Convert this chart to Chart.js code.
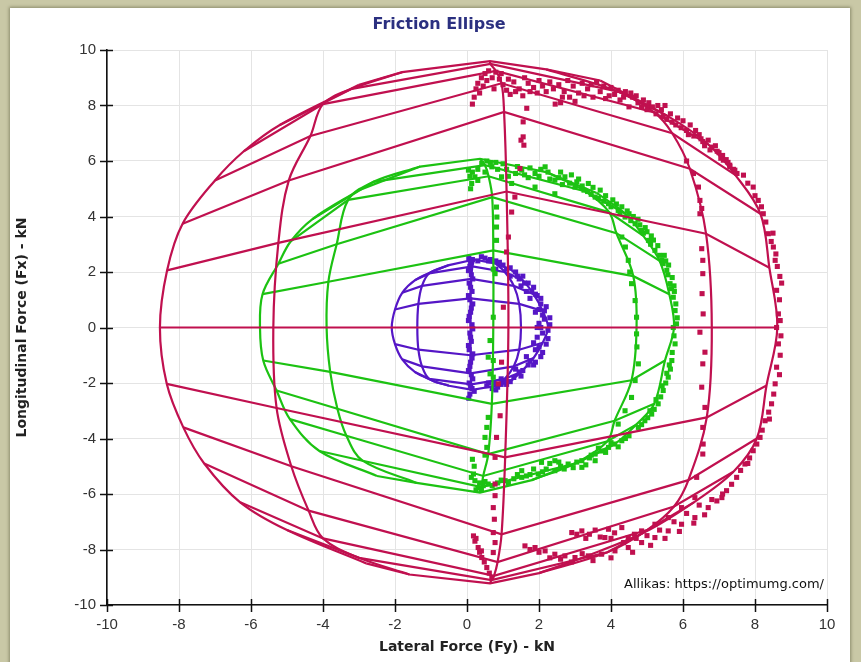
<!DOCTYPE html>
<html>
<head>
<meta charset="utf-8">
<title>Friction Ellipse</title>
<script src="https://cdn.jsdelivr.net/npm/chart.js@4.4.1/dist/chart.umd.min.js"></script>
<style>
	body { margin: 0; width: 861px; height: 662px; position: relative; overflow: hidden; background: #c9c8a6; }
	#panel { position: absolute; left: 10px; top: 8px; width: 840px; height: 660px; background: #fff; box-shadow: 0 0 3px 1px rgba(90, 90, 60, 0.55); }
	#chart { position: absolute; left: 0; top: 0; }
</style>
</head>
<body>
<div id="panel"></div>
<canvas id="chart" width="861" height="662"></canvas>
<script>
'use strict';

// axis ticks, kN
var tickValues = [-10, -8, -6, -4, -2, 0, 2, 4, 6, 8, 10];

// tyre model grids: each row is one slip ratio, nodes run [max -slip angle, mid -, 0, mid +, max +]
var redGrid = [
	[[-3.0, 8.75], [-1.8, 9.2], [0.64, 9.6], [2.2, 9.3], [3.7, 8.9]],
	[[-5.2, 7.3], [-3.2, 8.6], [0.65, 9.5], [4.2, 8.5], [5.6, 7.6]],
	[[-6.2, 6.35], [-4.0, 8.05], [0.8, 9.25], [5.2, 7.75], [6.7, 6.6]],
	[[-7.0, 5.3], [-4.35, 6.9], [0.96, 8.8], [5.7, 7.0], [7.45, 5.5]],
	[[-7.9, 3.74], [-4.95, 5.3], [1.03, 7.77], [6.19, 5.72], [8.15, 4.1]],
	[[-8.33, 2.06], [-5.24, 3.05], [1.1, 4.9], [6.64, 3.38], [8.4, 2.15]],
	[[-8.53, 0], [-5.38, 0], [1.15, 0], [6.8, 0], [8.62, 0]],
	[[-8.34, -2.03], [-5.29, -2.9], [1.06, -4.68], [6.66, -3.24], [8.32, -2.09]],
	[[-7.88, -3.6], [-4.88, -5.0], [0.96, -7.45], [6.15, -5.5], [8.05, -4.0]],
	[[-7.3, -4.9], [-4.4, -6.6], [0.85, -8.45], [5.75, -6.45], [7.4, -5.2]],
	[[-6.3, -6.3], [-4.0, -7.6], [0.75, -8.95], [5.0, -7.3], [6.3, -6.3]],
	[[-5.0, -7.3], [-3.0, -8.3], [0.68, -9.1], [3.9, -8.1], [4.9, -7.4]],
	[[-2.8, -8.5], [-1.6, -8.9], [0.64, -9.22], [2.0, -8.85], [3.0, -8.4]]
];

var greenGrid = [
	[[-3.0, 4.95], [-1.3, 5.8], [0.36, 6.08], [2.2, 5.6], [3.6, 4.85]],
	[[-4.3, 3.9], [-2.6, 5.25], [0.5, 5.85], [3.3, 4.9], [4.4, 4.1]],
	[[-4.9, 3.1], [-3.3, 4.6], [0.6, 5.45], [3.95, 4.15], [4.9, 3.3]],
	[[-5.24, 2.3], [-3.62, 3.0], [0.7, 4.7], [4.15, 3.4], [5.35, 2.4]],
	[[-5.68, 1.2], [-3.85, 1.65], [0.73, 2.78], [4.62, 1.85], [5.62, 1.2]],
	[[-5.75, 0], [-3.9, 0], [0.73, 0], [4.71, 0], [5.75, 0]],
	[[-5.66, -1.19], [-3.8, -1.6], [0.69, -2.75], [4.57, -1.9], [5.5, -1.19]],
	[[-5.29, -2.27], [-3.6, -2.93], [0.59, -4.56], [4.1, -3.36], [5.2, -2.75]],
	[[-4.92, -3.3], [-3.35, -3.9], [0.45, -5.35], [3.9, -4.1], [4.7, -3.5]],
	[[-4.1, -4.45], [-2.9, -4.8], [0.4, -5.75], [3.0, -4.9], [4.1, -4.2]],
	[[-2.5, -5.35], [-1.4, -5.6], [0.36, -5.95], [1.8, -5.5], [3.1, -4.85]]
];

var purpleGrid = [
	[[-0.9, 2.05], [-0.5, 2.25], [0.2, 2.45], [0.8, 2.3], [1.2, 2.1]],
	[[-1.45, 1.7], [-1.05, 1.95], [0.15, 2.2], [1.05, 2.0], [1.55, 1.7]],
	[[-1.8, 1.25], [-1.25, 1.5], [0.12, 1.75], [1.3, 1.5], [1.85, 1.2]],
	[[-2.0, 0.65], [-1.35, 0.85], [0.1, 1.05], [1.45, 0.85], [2.1, 0.6]],
	[[-2.09, 0], [-1.38, 0], [0.1, 0], [1.5, 0], [2.25, 0]],
	[[-2.0, -0.6], [-1.35, -0.8], [0.1, -1.0], [1.45, -0.8], [2.1, -0.55]],
	[[-1.8, -1.15], [-1.25, -1.4], [0.1, -1.65], [1.3, -1.4], [1.85, -1.1]],
	[[-1.45, -1.6], [-1.05, -1.85], [0.12, -2.05], [1.05, -1.85], [1.5, -1.6]],
	[[-0.9, -1.95], [-0.5, -2.1], [0.15, -2.25], [0.8, -2.1], [1.2, -1.95]]
];

// logged tyre forces (Fy, Fx)
var redLogged = [
	[0.15, 8.05], [0.2, 8.3], [0.25, 8.6], [0.3, 8.8], [0.4, 9.0], [0.5, 9.15], [0.45, 8.7], [0.35, 8.45],
	[0.55, 8.9], [0.7, 9.0], [0.75, 8.6], [0.95, 9.15], [1.15, 8.95], [1.35, 8.5], [1.6, 9.0], [1.75, 8.5],
	[0.6, 9.25], [0.8, 9.2], [0.9, 8.95], [1.0, 8.75], [1.1, 8.55], [1.2, 8.4], [1.3, 8.85], [1.45, 8.6],
	[1.55, 8.35], [1.7, 8.8], [1.85, 8.65], [1.95, 8.45], [2.1, 8.7], [2.3, 8.85], [2.4, 8.6], [2.45, 8.05],
	[2.0, 8.9], [2.2, 8.5], [2.55, 8.75], [2.65, 8.3], [2.8, 8.9], [3.0, 8.15], [3.25, 8.35], [3.45, 8.75],
	[2.6, 8.1], [2.7, 8.5], [2.85, 8.3], [2.95, 8.7], [3.1, 8.45], [3.2, 8.8], [3.35, 8.6], [3.5, 8.3],
	[3.6, 8.85], [3.7, 8.5], [3.85, 8.25], [4.0, 8.65], [4.1, 8.4], [4.25, 8.2], [4.4, 8.5], [4.5, 7.95],
	[3.8, 8.7], [3.95, 8.35], [4.2, 8.55], [4.35, 8.3], [4.55, 8.45], [4.7, 8.35], [4.85, 7.95], [5.05, 8.1],
	[4.6, 8.3], [4.75, 8.1], [4.9, 8.2], [5.0, 7.85], [5.15, 7.95], [5.25, 7.7], [5.4, 7.85], [5.5, 8.0],
	[5.3, 8.0], [5.45, 7.6], [5.65, 7.7], [5.8, 7.3], [6.0, 7.45], [6.15, 6.95], [6.35, 7.1], [6.5, 6.8],
	[5.55, 7.5], [5.7, 7.4], [5.85, 7.55], [5.95, 7.2], [6.1, 7.1], [6.2, 7.3], [6.3, 6.9], [6.45, 6.95],
	[6.55, 6.7], [6.7, 6.75], [6.8, 6.5], [6.9, 6.55], [7.0, 6.3], [7.1, 6.2], [7.2, 6.05], [7.3, 5.85], [7.4, 5.7],
	[6.6, 6.55], [6.75, 6.4], [6.95, 6.35], [7.05, 6.1], [7.25, 5.95], [7.5, 5.55],
	[1.66, 7.9], [1.5, 6.75],
	[7.12, 6.03], [7.44, 5.67], [7.68, 5.49], [7.95, 5.06], [8.09, 4.58], [8.23, 4.1], [8.37, 3.38], [8.51, 2.9],
	[8.56, 2.42], [8.69, 1.84], [8.6, 1.34], [8.65, 0.49], [8.6, 0], [8.65, -0.59], [8.6, -1.43], [8.56, -2.03],
	[8.46, -2.75], [8.28, -3.36], [8.14, -3.96], [7.95, -4.44], [7.72, -4.92], [7.49, -5.4], [7.21, -5.88], [6.94, -6.25],
	[8.0, 4.75], [8.3, 3.8], [8.45, 3.1], [8.62, 2.2], [8.68, 1.0], [8.7, -1.0], [8.52, -2.4], [8.38, -3.05],
	[8.05, -4.2], [7.85, -4.7], [7.6, -5.15], [7.35, -5.65],
	[7.3, 5.8], [7.8, 5.2], [8.18, 4.35], [8.5, 3.4], [8.58, 2.65], [8.74, 1.6], [8.7, 0.25], [8.72, -0.3],
	[8.68, -1.7], [8.4, -3.3], [8.2, -3.7], [7.8, -4.9], [7.1, -6.0],
	[6.1, 6.0], [6.29, 5.55], [6.43, 5.06], [6.47, 4.58], [6.52, 4.29], [6.47, 4.1], [6.52, 2.84], [6.55, 2.42],
	[6.55, 1.94], [6.53, 1.22], [6.56, 0.49], [6.47, -0.17], [6.61, -0.89], [6.55, -1.31], [6.52, -2.15],
	[6.61, -2.88], [6.55, -3.6], [6.56, -4.2], [6.55, -4.56], [6.38, -5.4],
	[1.56, 7.41], [1.56, 6.87], [1.58, 6.57], [1.47, 5.73], [1.33, 4.7], [1.24, 4.16], [1.15, 3.26], [1.1, 2.72],
	[1.01, 0.73], [0.96, -1.25], [0.87, -2.03], [0.92, -3.18], [0.82, -3.96], [0.78, -4.68], [0.78, -5.64],
	[0.78, -6.06], [0.73, -6.49], [0.76, -6.91], [0.73, -7.39], [0.78, -7.75], [0.73, -8.11],
	[0.18, -7.51], [0.22, -7.7], [0.25, -7.6], [0.31, -7.93], [0.35, -8.1], [0.4, -8.05], [0.41, -8.29],
	[0.48, -8.45], [0.55, -8.65], [0.62, -8.85], [0.69, -9.01],
	[2.91, -7.39], [3.05, -7.45], [3.19, -7.33], [3.4, -7.45], [3.56, -7.3], [3.83, -7.57], [3.93, -7.27],
	[4.1, -7.4], [4.3, -7.21], [4.48, -7.57], [4.65, -7.45], [4.85, -7.33], [5.22, -7.09], [5.59, -6.85],
	[5.96, -6.49], [6.33, -6.13], [3.3, -7.6], [3.7, -7.55], [4.0, -7.6], [4.35, -7.75], [4.7, -7.6],
	[5.0, -7.5], [5.35, -7.3], [5.75, -7.0], [6.1, -6.7], [6.45, -6.4], [6.8, -6.2],
	[1.61, -7.87], [1.75, -8.0], [1.89, -7.93], [2.17, -8.05], [2.3, -8.3], [2.44, -8.17], [2.72, -8.23],
	[2.9, -8.45], [3.0, -8.29], [3.37, -8.23], [3.5, -8.4], [3.74, -8.17], [4.0, -8.3], [4.11, -8.05],
	[4.48, -7.93], [4.6, -8.1], [4.85, -7.75], [5.1, -7.85], [5.22, -7.57], [5.5, -7.6], [5.59, -7.33],
	[5.9, -7.35], [5.96, -7.09], [6.3, -7.05], [6.33, -6.85], [6.6, -6.75], [6.7, -6.49], [7.08, -6.13],
	[2.0, -8.1], [2.6, -8.35], [3.2, -8.15]
];

var greenLogged = [
	[0.04, 5.67], [0.08, 5.45], [0.13, 5.19], [0.1, 5.0], [0.22, 5.43], [0.3, 5.7], [0.41, 5.91], [0.55, 6.0],
	[0.15, 5.6], [0.3, 5.3], [0.5, 5.6], [0.65, 5.95], [0.85, 5.7], [1.0, 5.9], [1.15, 5.45], [1.4, 5.8],
	[0.69, 5.79], [0.8, 5.95], [0.96, 5.43], [1.1, 5.7], [1.24, 5.19], [1.35, 5.55], [1.52, 5.67], [1.7, 5.4],
	[1.6, 5.5], [1.75, 5.75], [2.0, 5.45], [2.25, 5.6], [2.55, 5.4], [2.65, 5.15], [2.9, 5.5], [3.05, 5.25],
	[1.89, 5.55], [1.89, 5.06], [2.05, 5.7], [2.17, 5.79], [2.3, 5.35], [2.44, 5.31], [2.44, 4.82], [2.6, 5.6],
	[2.72, 5.43], [2.85, 5.2], [3.0, 5.06], [3.1, 5.35], [3.25, 4.95], [3.37, 5.19], [3.45, 4.8], [3.56, 4.7],
	[3.2, 5.1], [3.35, 4.9], [3.5, 5.05], [3.65, 4.65], [3.85, 4.75], [4.0, 4.35], [4.15, 4.45], [4.25, 4.1],
	[3.7, 4.95], [3.8, 4.55], [3.93, 4.46], [4.05, 4.6], [4.2, 4.22], [4.3, 4.35], [4.39, 3.98], [4.5, 4.1],
	[4.45, 4.2], [4.55, 3.85], [4.62, 4.0], [4.8, 3.7], [4.9, 3.4], [5.0, 3.45], [5.1, 3.0], [5.18, 3.15],
	[4.67, 3.74], [4.75, 3.9], [4.85, 3.5], [4.95, 3.6], [5.04, 3.14], [5.12, 3.3], [5.22, 2.78], [5.3, 2.95],
	[5.41, 2.42], [5.48, 2.6], [5.55, 2.06], [5.6, 2.25], [5.64, 1.58], [5.7, 1.8], [5.73, 1.09], [5.76, 1.3],
	[5.35, 2.6], [5.45, 2.3], [5.52, 2.4], [5.58, 1.9], [5.68, 1.4], [5.75, 1.5],
	[5.78, 0.61], [5.8, 0.85], [5.84, 0.35], [5.82, 0.13],
	[5.73, 0], [5.75, -0.3], [5.78, -0.59], [5.69, -1.19], [5.65, -1.5], [5.59, -1.79], [5.52, -2.0], [5.45, -2.27],
	[5.38, -2.5], [5.31, -2.75], [5.2, -2.95], [5.13, -3.12], [5.02, -3.25], [4.94, -3.36], [4.85, -3.5], [4.76, -3.6],
	[5.7, -0.9], [5.62, -1.35], [5.55, -1.65], [5.42, -2.1], [5.25, -2.6], [5.08, -3.0],
	[4.3, 3.26], [4.4, 2.9], [4.48, 2.42], [4.52, 2.0], [4.57, 1.58], [4.67, 0.97], [4.71, 0.37], [4.71, -0.23],
	[4.72, -0.7], [4.76, -1.31], [4.67, -1.91], [4.57, -2.52], [4.39, -3.0], [4.2, -3.48],
	[4.5, -3.9], [4.3, -4.08], [4.1, -4.2], [3.93, -4.32], [3.75, -4.45], [3.56, -4.56], [3.56, -4.8], [3.4, -4.7],
	[3.19, -4.8], [3.19, -5.04], [2.95, -5.05], [2.81, -4.92], [2.6, -5.0], [2.44, -4.8], [2.44, -5.16], [2.2, -5.1],
	[2.07, -4.86], [1.98, -5.28], [1.75, -5.3], [1.52, -5.4], [1.52, -5.16], [1.3, -5.45], [1.06, -5.52],
	[0.85, -5.6], [0.59, -5.64], [0.45, -5.7], [0.31, -5.77], [0.22, -5.52], [0.18, -5.28], [0.2, -5.0], [0.15, -4.75],
	[4.4, -4.0], [4.2, -4.3], [4.0, -4.15], [3.85, -4.5], [3.65, -4.35], [3.45, -4.6], [3.3, -4.95], [3.05, -4.85],
	[2.7, -5.1], [2.55, -4.85], [2.3, -4.9], [2.1, -5.2], [1.85, -5.1], [1.65, -5.35], [1.4, -5.3], [1.15, -5.6],
	[0.95, -5.5], [0.7, -5.7], [0.5, -5.55], [0.35, -5.6], [0.25, -5.85], [0.12, -5.4], [0.4, -5.85],
	[0.82, 4.34], [0.83, 3.98], [0.82, 3.62], [0.82, 3.14], [0.73, 2.1], [0.78, 1.94], [0.73, 0.37], [0.64, -0.47],
	[0.59, -1.07], [0.73, -1.19], [0.64, -1.67], [0.73, -1.79], [0.59, -3.24], [0.55, -3.6], [0.5, -3.96],
	[0.55, -4.32], [0.5, -4.6]
];

var purpleLogged = [
	[0.05, 2.5], [0.15, 2.45], [0.08, 2.2], [0.12, 1.9], [0.06, 1.6], [0.14, 1.3], [0.08, 1.0], [0.12, 0.7],
	[0.06, 0.4], [0.14, 0.1], [0.08, -0.2], [0.12, -0.5], [0.06, -0.8], [0.14, -1.1], [0.08, -1.4], [0.12, -1.7],
	[0.06, -2.0], [0.14, -2.2], [0.08, -2.4], [0.3, 2.4], [0.4, 2.55], [0.5, 2.5], [0.65, 2.45], [0.8, 2.4],
	[0.1, 2.35], [0.04, 2.05], [0.16, 1.75], [0.1, 1.45], [0.04, 1.15], [0.16, 0.85], [0.1, 0.55], [0.04, 0.25],
	[0.16, -0.05], [0.1, -0.35], [0.04, -0.65], [0.16, -0.95], [0.1, -1.25], [0.04, -1.55], [0.16, -1.85],
	[0.1, -2.1], [0.2, -2.3], [0.05, -2.55],
	[0.6, 2.4], [1.0, 2.25], [1.35, 2.0], [1.7, 1.6], [1.95, 1.15], [2.15, 0.6], [2.3, 0.1], [2.25, -0.4],
	[2.1, -0.9], [1.85, -1.35], [1.5, -1.75], [1.1, -2.05], [0.7, -2.2],
	[1.1, 2.1], [1.45, 1.75], [1.8, 1.3], [2.05, 0.85], [2.15, 0.3], [2.1, -0.2], [2.0, -0.7], [1.75, -1.2],
	[1.45, -1.6], [1.05, -1.95], [0.85, -2.15],
	[0.8, 2.1], [1.2, 1.85], [1.5, 1.5], [1.75, 1.05], [1.9, 0.55], [1.95, 0], [1.85, -0.55], [1.65, -1.05],
	[1.35, -1.5], [0.95, -1.85], [0.6, -2.0],
	[0.9, 2.35], [1.2, 2.15], [1.55, 1.85], [1.6, 1.6], [1.85, 1.45], [1.9, 1.2], [2.05, 1.05], [2.0, 0.65],
	[2.2, 0.75], [2.1, 0.45], [2.3, 0.35], [2.0, 0.15], [2.25, -0.1], [2.05, 0.0], [1.95, -0.35], [2.2, -0.6],
	[1.9, -0.8], [2.05, -1.05], [1.7, -1.35], [1.9, -1.25], [1.55, -1.55], [1.3, -1.8], [1.2, -1.95],
	[0.95, -2.05], [0.75, -2.0], [0.8, -2.25], [0.55, -2.1], [1.65, 1.3], [1.4, 1.85]
];

var RED = '#c0104f';
var GREEN = '#1cc212';
var PURPLE = '#5516c6';

function toXY(points) {
	return points.map(function (p) { return { x: p[0], y: p[1] }; });
}

function lineSet(points, color, tension) {
	return {
		data: toXY(points),
		showLine: true,
		borderColor: color,
		borderWidth: 2.2,
		pointRadius: 0,
		pointHoverRadius: 0,
		tension: tension
	};
}

function pointSet(points, color) {
	return {
		data: toXY(points),
		showLine: false,
		pointStyle: 'rect',
		pointRadius: 3.6,
		pointBorderWidth: 0,
		backgroundColor: color,
		borderColor: color
	};
}

// rows are drawn as straight segments, slip-angle columns as smooth curves;
// the zero slip row sits under the red one, so the inner grids can leave it out
function meshSets(grid, color, withZeroRow) {
	var sets = [];
	grid.forEach(function (row) {
		var isZero = row.every(function (p) { return p[1] === 0; });
		if (withZeroRow || !isZero) {
			sets.push(lineSet(row, color, 0));
		}
	});
	for (var c = 0; c < grid[0].length; c++) {
		sets.push(lineSet(grid.map(function (row) { return row[c]; }), color, 0.35));
	}
	return sets;
}

// first dataset ends up on top
var datasets = [].concat(
	[pointSet(redLogged, RED)], meshSets(redGrid, RED, true),
	[pointSet(greenLogged, GREEN)], meshSets(greenGrid, GREEN, false),
	[pointSet(purpleLogged, PURPLE)], meshSets(purpleGrid, PURPLE, false)
);

var decorations = {
	id: 'decorations',
	afterDraw: function (chart) {
		var ctx = chart.ctx;
		var xs = chart.scales.x;
		var ys = chart.scales.y;
		ctx.save();
		ctx.strokeStyle = '#111';
		ctx.lineWidth = 1.5;
		ctx.beginPath();
		tickValues.forEach(function (v) {
			var px = Math.round(xs.getPixelForValue(v)) + 0.5;
			ctx.moveTo(px, ys.bottom - 6);
			ctx.lineTo(px, ys.bottom + 7);
			var py = Math.round(ys.getPixelForValue(v)) + 0.5;
			ctx.moveTo(xs.left - 7, py);
			ctx.lineTo(xs.left + 6, py);
		});
		ctx.stroke();

		ctx.fillStyle = '#2b3080';
		ctx.font = 'bold 16px "DejaVu Sans"';
		ctx.textAlign = 'center';
		ctx.textBaseline = 'middle';
		ctx.fillText('Friction Ellipse', 439, 25);

		ctx.fillStyle = '#111';
		ctx.font = '13px "DejaVu Sans"';
		ctx.textAlign = 'right';
		ctx.fillText('Allikas: https://optimumg.com/', xs.right - 3, ys.bottom - 20);
		ctx.restore();
	}
};

function axis(title, size) {
	return {
		type: 'linear',
		min: -10,
		max: 10,
		afterBuildTicks: function (scale) {
			scale.ticks = tickValues.map(function (v) { return { value: v }; });
		},
		afterFit: function (scale) {
			if (scale.isHorizontal()) {
				scale.height = size;
			} else {
				scale.width = size;
			}
		},
		grid: { color: '#e4e4e4', lineWidth: 1, drawTicks: false },
		border: { display: true, color: '#111', width: 1.6 },
		ticks: {
			padding: 11,
			color: '#333',
			font: { family: '"Liberation Sans", Arial, sans-serif', size: 15 }
		},
		title: {
			display: true,
			text: title,
			color: '#222',
			font: { family: '"DejaVu Sans"', size: 14, weight: 'bold' },
			padding: { top: 4, bottom: 2 }
		}
	};
}

new Chart(document.getElementById('chart'), {
	type: 'scatter',
	data: { datasets: datasets },
	options: {
		responsive: false,
		animation: false,
		devicePixelRatio: 1,
		layout: { padding: { left: 10, right: 34, top: 50, bottom: 4 } },
		plugins: {
			legend: { display: false },
			title: { display: false },
			tooltip: { enabled: false }
		},
		scales: {
			x: axis('Lateral Force (Fy) - kN', 53),
			y: axis('Longitudinal Force (Fx) - kN', 97)
		}
	},
	plugins: [decorations]
});
</script>
</body>
</html>
